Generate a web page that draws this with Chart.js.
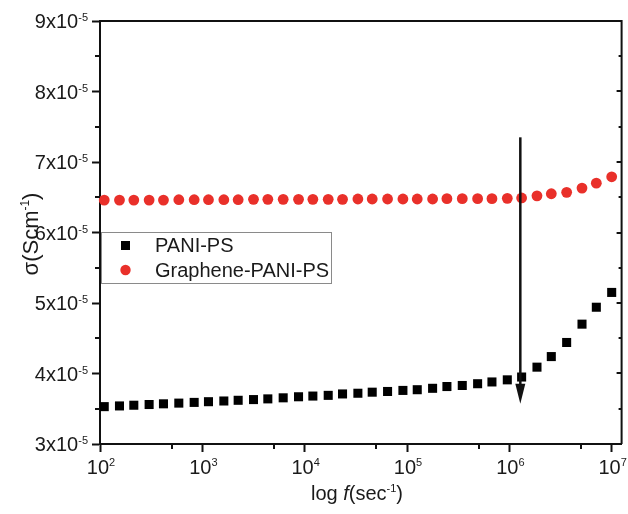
<!DOCTYPE html>
<html>
<head>
<meta charset="utf-8">
<script src="https://cdn.jsdelivr.net/npm/chart.js@4/dist/chart.umd.min.js"></script>
<style>
  html, body { margin: 0; padding: 0; background: #fff; }
  canvas { display: block; }
</style>
</head>
<body>
<canvas id="c" width="628" height="514"></canvas>
<script>
// ---- data ----
const freqHz = [110, 155, 214, 302, 417, 589, 832, 1148, 1622, 2239, 3162, 4365, 6166, 8710,
  12023, 16982, 23442, 33113, 45709, 64565, 91201, 125893, 177828, 245471, 346737, 489779,
  676083, 954993, 1318257, 1862087, 2570396, 3630781, 5128614, 7079458, 10000000];
const paniPs = [3.53e-5, 3.54e-5, 3.55e-5, 3.56e-5, 3.57e-5, 3.58e-5, 3.59e-5, 3.60e-5, 3.61e-5,
  3.62e-5, 3.63e-5, 3.64e-5, 3.655e-5, 3.67e-5, 3.68e-5, 3.69e-5, 3.71e-5, 3.72e-5, 3.735e-5,
  3.745e-5, 3.76e-5, 3.77e-5, 3.79e-5, 3.815e-5, 3.83e-5, 3.855e-5, 3.88e-5, 3.91e-5, 3.95e-5,
  4.09e-5, 4.24e-5, 4.44e-5, 4.70e-5, 4.94e-5, 5.15e-5];
const graphenePaniPs = [6.46e-5, 6.46e-5, 6.46e-5, 6.46e-5, 6.46e-5, 6.465e-5, 6.465e-5, 6.465e-5,
  6.465e-5, 6.465e-5, 6.47e-5, 6.47e-5, 6.47e-5, 6.47e-5, 6.47e-5, 6.47e-5, 6.47e-5, 6.475e-5,
  6.475e-5, 6.475e-5, 6.475e-5, 6.475e-5, 6.475e-5, 6.48e-5, 6.48e-5, 6.48e-5, 6.48e-5, 6.485e-5,
  6.49e-5, 6.52e-5, 6.55e-5, 6.57e-5, 6.63e-5, 6.70e-5, 6.79e-5];
const seriesNames = ['PANI-PS', 'Graphene-PANI-PS'];
const xMajorTicks = [1e2, 1e3, 1e4, 1e5, 1e6, 1e7];
const xMajorExp = ['2', '3', '4', '5', '6', '7'];
const xMinorTicks = [5e2, 5e3, 5e4, 5e5, 5e6];
const yMajorTicks = [3e-5, 4e-5, 5e-5, 6e-5, 7e-5, 8e-5, 9e-5];
const yMajorMant = ['3', '4', '5', '6', '7', '8', '9'];
const yMinorTicks = [3.5e-5, 4.5e-5, 5.5e-5, 6.5e-5, 7.5e-5, 8.5e-5];
const arrowX = [1.28e6];
const arrowY = [7.35e-5, 3.57e-5];

// ---- styling ----
const FONT = "'Liberation Sans', Arial, sans-serif";
const RED = '#E9302A';
const INK = '#111';

function drawRich(ctx, parts, x, y, align, size) {
  size = size || 20;
  const supSize = Math.round(size * 0.56);
  const fontFor = p => (p.it ? 'italic ' : '') + (p.sup ? supSize : size) + 'px ' + FONT;
  let w = 0;
  parts.forEach(p => { ctx.font = fontFor(p); w += ctx.measureText(p.t).width; });
  let cx = align === 'right' ? x - w : align === 'center' ? x - w / 2 : x;
  ctx.textAlign = 'left';
  ctx.textBaseline = 'alphabetic';
  parts.forEach(p => {
    ctx.font = fontFor(p);
    ctx.fillText(p.t, cx, p.sup ? y - (p.raise || 7) : y);
    cx += ctx.measureText(p.t).width;
  });
}

const overlay = {
  id: 'overlay',
  afterDatasetsDraw(chart) {
    const ctx = chart.ctx, xs = chart.scales.x, ys = chart.scales.y;
    const ax = xs.getPixelForValue(arrowX[0]);
    const y0 = ys.getPixelForValue(arrowY[0]);
    const y1 = ys.getPixelForValue(arrowY[1]);
    ctx.save();
    ctx.strokeStyle = INK; ctx.fillStyle = INK; ctx.lineWidth = 2.5;
    ctx.beginPath(); ctx.moveTo(ax, y0); ctx.lineTo(ax, y1 - 16); ctx.stroke();
    ctx.beginPath();
    ctx.moveTo(ax - 5, y1 - 20); ctx.lineTo(ax + 5, y1 - 20); ctx.lineTo(ax, y1);
    ctx.closePath(); ctx.fill();
    ctx.restore();
  },
  afterDraw(chart) {
    const ctx = chart.ctx, xs = chart.scales.x, ys = chart.scales.y, a = chart.chartArea;
    ctx.save();
    ctx.strokeStyle = INK; ctx.fillStyle = INK; ctx.lineWidth = 2;
    // top and right frame
    ctx.beginPath();
    ctx.moveTo(a.left, a.top); ctx.lineTo(a.right, a.top); ctx.lineTo(a.right, a.bottom);
    ctx.stroke();
    // minor ticks
    ctx.beginPath();
    xMinorTicks.forEach(v => { const px = Math.round(xs.getPixelForValue(v)); ctx.moveTo(px, a.bottom); ctx.lineTo(px, a.bottom + 5); });
    yMinorTicks.forEach(v => { const py = Math.round(ys.getPixelForValue(v)); ctx.moveTo(a.left, py); ctx.lineTo(a.left - 5, py); ctx.moveTo(a.right, py); ctx.lineTo(a.right - 3, py); });
    yMajorTicks.forEach(v => { const py = Math.round(ys.getPixelForValue(v)); ctx.moveTo(a.right, py); ctx.lineTo(a.right - 5, py); });
    ctx.stroke();
    // tick labels
    ctx.fillStyle = '#1a1a1a';
    xMajorTicks.forEach((v, i) => {
      drawRich(ctx, [{t: '10'}, {t: xMajorExp[i], sup: true, raise: 8}], xs.getPixelForValue(v) + 1, 474, 'center');
    });
    yMajorTicks.forEach((v, i) => {
      drawRich(ctx, [{t: yMajorMant[i] + 'x10'}, {t: '-5', sup: true, raise: 7}], 88, ys.getPixelForValue(v) + 7, 'right');
    });
    // axis titles
    drawRich(ctx, [{t: 'log '}, {t: 'f', it: true}, {t: '(sec'}, {t: '-1', sup: true, raise: 8}, {t: ')'}], 357, 500, 'center');
    ctx.save();
    ctx.translate(38, 234); ctx.rotate(-Math.PI / 2);
    drawRich(ctx, [{t: 'σ(Scm'}, {t: '-1', sup: true, raise: 9}, {t: ')'}], 0, 0, 'center', 22);
    ctx.restore();
    // legend
    ctx.strokeStyle = '#8a8a8a'; ctx.lineWidth = 1;
    ctx.strokeRect(101.5, 232.5, 230, 51);
    ctx.fillStyle = '#000';
    ctx.fillRect(121, 241, 9, 9);
    ctx.fillStyle = RED;
    ctx.beginPath(); ctx.arc(125.5, 270, 5.2, 0, Math.PI * 2); ctx.fill();
    ctx.fillStyle = '#1a1a1a';
    ctx.font = '20px ' + FONT; ctx.textAlign = 'left'; ctx.textBaseline = 'alphabetic';
    ctx.fillText(seriesNames[0], 155, 252);
    ctx.fillText(seriesNames[1], 155, 277);
    ctx.restore();
  }
};

new Chart(document.getElementById('c'), {
  type: 'scatter',
  data: {
    datasets: [
      {
        label: seriesNames[0],
        data: freqHz.map((f, i) => ({x: f, y: paniPs[i]})),
        pointStyle: 'rect', pointRadius: 6.4, pointHoverRadius: 6.4,
        backgroundColor: '#000', borderColor: '#000', borderWidth: 0,
        showLine: false, clip: false
      },
      {
        label: seriesNames[1],
        data: freqHz.map((f, i) => ({x: f, y: graphenePaniPs[i]})),
        pointStyle: 'circle', pointRadius: 5.4, pointHoverRadius: 5.4,
        backgroundColor: RED, borderColor: RED, borderWidth: 0,
        showLine: false, clip: false
      }
    ]
  },
  options: {
    responsive: false,
    animation: false,
    devicePixelRatio: 1,
    layout: { padding: { top: 21, right: 2, left: 0, bottom: 0 } },
    plugins: { legend: { display: false }, tooltip: { enabled: false } },
    scales: {
      x: {
        type: 'logarithmic', position: 'bottom', min: 100, max: 1.25e7,
        afterBuildTicks: s => { s.ticks = xMajorTicks.map(v => ({value: v})); },
        afterFit: s => { s.height = 70; },
        ticks: { display: false },
        grid: { display: true, drawOnChartArea: false, drawTicks: true, tickLength: 8, tickWidth: 2, tickColor: INK },
        border: { display: true, color: INK, width: 2 }
      },
      y: {
        type: 'linear', position: 'left', min: 3e-5, max: 9e-5,
        afterBuildTicks: s => { s.ticks = yMajorTicks.map(v => ({value: v})); },
        afterFit: s => { s.width = 100; },
        ticks: { display: false },
        grid: { display: true, drawOnChartArea: false, drawTicks: true, tickLength: 8, tickWidth: 2, tickColor: INK },
        border: { display: true, color: INK, width: 2 }
      }
    }
  },
  plugins: [overlay]
});
</script>
</body>
</html>
